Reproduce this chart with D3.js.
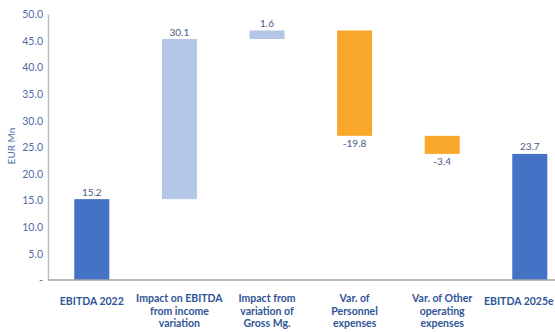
<!DOCTYPE html>
<html><head><meta charset="utf-8">
<script src="https://cdn.jsdelivr.net/npm/d3@7"></script>
<style>body{margin:0;background:#fff}svg{display:block}text{font-family:Lato,"Open Sans",sans-serif}</style>
</head><body><svg id="c" width="555" height="332"></svg>
<script>
const categories = [
  ["EBITDA 2022"],
  ["Impact on EBITDA","from income","variation"],
  ["Impact from","variation of","Gross Mg."],
  ["Var. of","Personnel","expenses"],
  ["Var. of Other","operating","expenses"],
  ["EBITDA 2025e"]
];
const values = [15.2, 30.1, 1.6, -19.8, -3.4, 23.7];
const kinds = ["total","delta","delta","delta","delta","total"];
const yTicks = [0,5,10,15,20,25,30,35,40,45,50];

const svg = d3.select("#c");
const keys = categories.map(c => c.join(" "));
const x = d3.scaleBand().domain(keys).range([48, 573.6]).paddingInner(0.6).paddingOuter(0.3);
const y = d3.scaleLinear().domain([0,50]).range([280,14]);

let run = 0;
const bars = values.map((v,i) => {
  let lo, hi;
  if (kinds[i] === "total") { lo = 0; hi = v; run = v; }
  else { const s = run; run = run + v; lo = Math.min(s, run); hi = Math.max(s, run); }
  const color = kinds[i] === "total" ? "#4472C4" : (v >= 0 ? "#B4C7E7" : "#F9A82B");
  return {key: keys[i], v, lo, hi, color};
});

const yAxis = d3.axisLeft(y).tickValues(yTicks).tickSize(0).tickPadding(5)
  .tickFormat(d => d === 0 ? "-" : d.toFixed(1));
const ga = svg.append("g").attr("transform","translate(48,0)").call(yAxis);
ga.select(".domain").attr("stroke","#BFBFBF").attr("stroke-width",1.5);
ga.selectAll("text").attr("fill","#4F6BA8").style("font-size","10.5px").attr("dy","0.35em");

svg.selectAll("rect.bar").data(bars).join("rect")
  .attr("x", d => x(d.key)).attr("width", x.bandwidth())
  .attr("y", d => y(d.hi)).attr("height", d => y(d.lo) - y(d.hi))
  .attr("fill", d => d.color);

svg.append("line").attr("x1",48).attr("x2",555).attr("y1",y(0)).attr("y2",y(0))
  .attr("stroke","#A6A6A6").attr("stroke-width",1.5);

svg.selectAll("text.val").data(bars).join("text")
  .attr("x", d => x(d.key) + x.bandwidth()/2)
  .attr("y", d => d.v >= 0 ? y(d.hi) - 3.5 : y(d.lo) + 11)
  .attr("text-anchor","middle").attr("fill","#4A5A86")
  .style("font-size","10px").text(d => d.v.toFixed(1));

categories.forEach((lines,i) => {
  const t = svg.append("text").attr("text-anchor","middle")
    .attr("fill","#2F5597").style("font-size","10.5px").style("font-weight","bold")
    .style("font-family","'Liberation Sans Narrow','Arial Narrow',Lato,sans-serif");
  const cx = x(keys[i]) + x.bandwidth()/2;
  const spans = lines.map((l,j) => t.append("tspan").attr("x", cx)
      .attr("y", (lines.length === 1 ? 305 : 302) + j*12.5).text(l));
  const bb = t.node().getBBox();
  if (bb.x + bb.width > 554) {
    const shift = bb.x + bb.width - 554;
    spans.forEach(s => s.attr("x", cx - shift));
  }
});

svg.append("text").attr("transform","translate(15,146) rotate(-90)")
  .attr("text-anchor","middle").attr("fill","#4F6BA8").style("font-size","10px").text("EUR Mn");
</script></body></html>
